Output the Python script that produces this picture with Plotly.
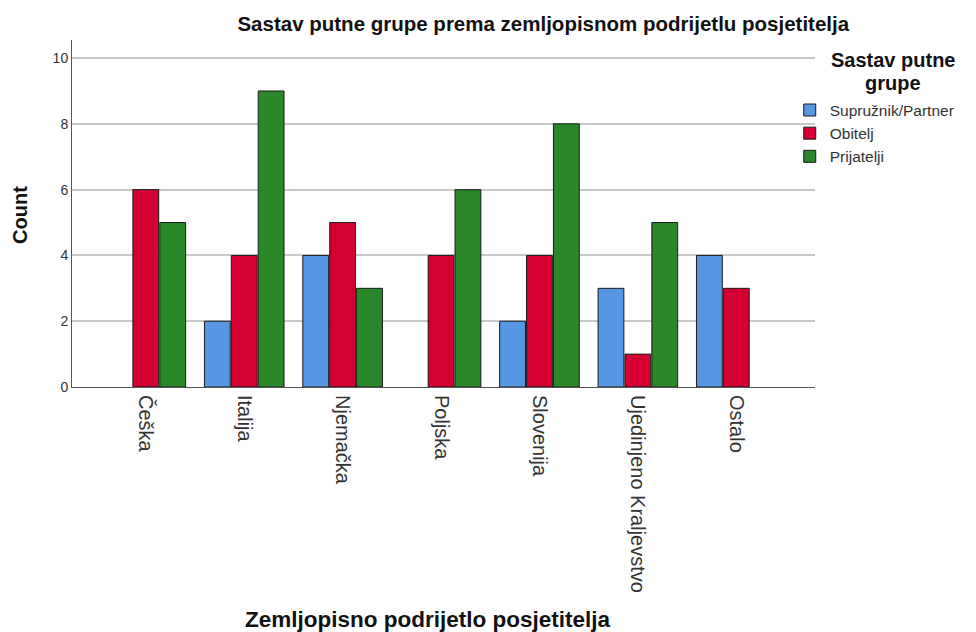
import plotly.graph_objects as go

# Data
countries = ['Češka', 'Italija', 'Njemačka', 'Poljska', 'Slovenija',
             'Ujedinjeno Kraljevstvo', 'Ostalo']
partner = [0, 2, 4, 0, 2, 3, 4]
obitelj = [6, 4, 5, 4, 4, 1, 3]
prijatelji = [5, 9, 3, 6, 8, 5, 0]

series = [
    ('Supružnik/Partner', partner, '#5796E3'),
    ('Obitelj', obitelj, '#D50032'),
    ('Prijatelji', prijatelji, '#2A882A'),
]

fig = go.Figure()
for name, vals, color in series:
    # empty cells are not drawn at all (no flat zero bar)
    fig.add_trace(go.Bar(
        x=countries,
        y=[v if v else None for v in vals],
        name=name,
        marker={'color': color, 'line': {'color': '#1a1a1a', 'width': 1}},
    ))

font = 'Liberation Sans, Arial, sans-serif'

fig.update_layout(
    width=968, height=624,
    plot_bgcolor='white', paper_bgcolor='white',
    font={'family': font, 'color': '#222222', 'size': 12},
    barmode='group', bargap=0.18, bargroupgap=0.04,
    margin={'l': 64, 'r': 161, 't': 32, 'b': 245},
    title={'text': '<b>Sastav putne grupe prema zemljopisnom podrijetlu posjetitelja</b>',
           'x': 0.553, 'xanchor': 'center', 'y': 0.974, 'yanchor': 'middle',
           'font': {'size': 20.5, 'color': '#111111'}},
    xaxis={'range': [-0.75, 6.8], 'tickangle': 90, 'showgrid': False,
           'showline': True, 'linecolor': '#555555', 'linewidth': 1,
           'ticks': '', 'ticklabelstandoff': 3,
           'tickfont': {'size': 20, 'color': '#333333'}},
    yaxis={'range': [0, 10.55], 'dtick': 2, 'showgrid': True,
           'gridcolor': '#c8c8c8', 'gridwidth': 1.5, 'zeroline': False,
           'showline': True, 'linecolor': '#555555', 'linewidth': 1,
           'ticks': '', 'tickfont': {'size': 14, 'color': '#333333'}},
    legend={'x': 0.966, 'xanchor': 'left', 'y': 0.846, 'yanchor': 'top',
            'font': {'size': 15.5, 'color': '#333333'},
            'itemwidth': 30, 'tracegroupgap': 0, 'bgcolor': 'rgba(0,0,0,0)'},
    annotations=[
        dict(text='<b>Sastav putne</b>', xref='paper', yref='paper',
             x=1.105, y=0.943, xanchor='center', yanchor='middle', showarrow=False,
             font={'size': 20, 'color': '#111111'}),
        dict(text='<b>grupe</b>', xref='paper', yref='paper',
             x=1.105, y=0.876, xanchor='center', yanchor='middle', showarrow=False,
             font={'size': 20, 'color': '#111111'}),
        dict(text='<b>Zemljopisno podrijetlo posjetitelja</b>', xref='paper', yref='paper',
             x=0.479, y=-0.671, xanchor='center', yanchor='middle', showarrow=False,
             font={'size': 22.5, 'color': '#111111'}),
        dict(text='<b>Count</b>', xref='paper', yref='paper', textangle=-90,
             x=-0.07, y=0.496, xanchor='center', yanchor='middle', showarrow=False,
             font={'size': 20, 'color': '#111111'}),
    ],
)

fig.write_html('out.html')
